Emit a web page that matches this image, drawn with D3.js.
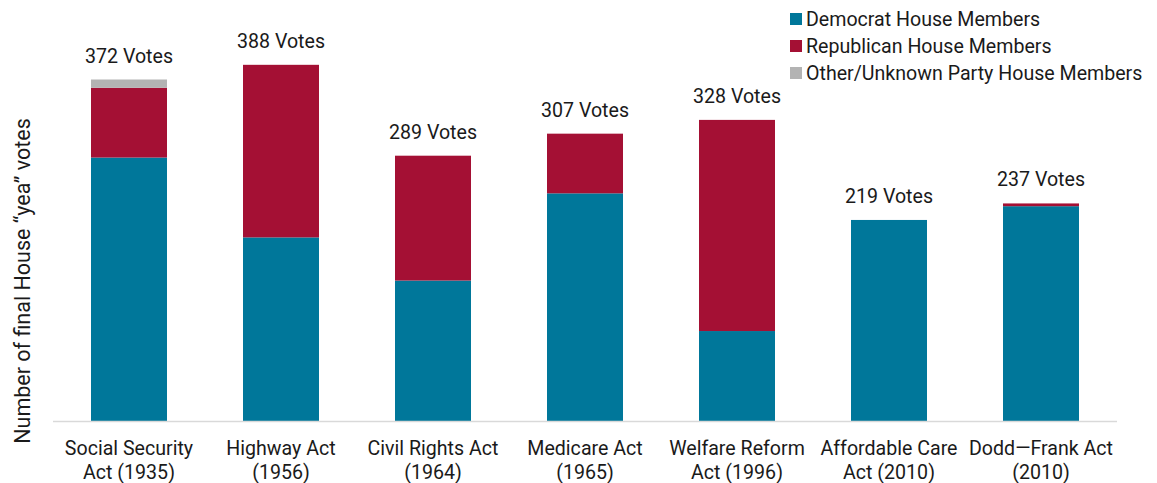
<!DOCTYPE html>
<html>
<head>
<meta charset="utf-8">
<script src="https://cdn.jsdelivr.net/npm/d3@7"></script>
<style>
  body { margin: 0; background: #fff; }
  text { font-family: Roboto, "Liberation Sans", sans-serif; fill: #1a1a1a; }
</style>
</head>
<body>
<svg id="chart" width="1157" height="483"></svg>
<script>
// Chart data
var acts = [
    ["Social Security", "Act (1935)"],
    ["Highway Act", "(1956)"],
    ["Civil Rights Act", "(1964)"],
    ["Medicare Act", "(1965)"],
    ["Welfare Reform", "Act (1996)"],
    ["Affordable Care", "Act (2010)"],
    ["Dodd\u2014Frank Act", "(2010)"]
];
var democrats = [287, 200, 153, 248, 98, 219, 234];
var republicans = [76, 188, 136, 65, 230, 0, 3];
var others = [9, 0, 0, 0, 0, 0, 0];
var totalLabels = ["372 Votes", "388 Votes", "289 Votes", "307 Votes", "328 Votes", "219 Votes", "237 Votes"];
var seriesNames = ["Democrat House Members", "Republican House Members", "Other/Unknown Party House Members"];
var seriesColors = ["#00779a", "#a41034", "#b3b3b3"];

var dimensions = {
    width: 1157,
    height: 483,
    margin: { top: 0, bottom: 62, left: 53, right: 40 }
};

var svg = d3.select("#chart");

// Build rows for stack
var rows = acts.map((a, i) => ({
    key: i,
    dem: democrats[i],
    rep: republicans[i],
    oth: others[i]
}));

var stack = d3.stack().keys(["dem", "rep", "oth"]);
var series = stack(rows);

var xScale = d3.scaleBand()
    .domain(d3.range(acts.length))
    .range([dimensions.margin.left, dimensions.width - dimensions.margin.right])
    .paddingInner(0.5)
    .paddingOuter(0.25);

var baseline = dimensions.height - dimensions.margin.bottom;
var yScale = d3.scaleLinear()
    .domain([0, 100])
    .range([baseline, baseline - 91.8]);

// Bars
svg.selectAll(".layer")
    .data(series)
    .enter()
    .append("g")
    .attr("class", "layer")
    .attr("fill", (d, i) => seriesColors[i])
    .selectAll("rect")
    .data(d => d)
    .enter()
    .append("rect")
    .attr("x", d => xScale(d.data.key))
    .attr("y", d => yScale(d[1]))
    .attr("width", xScale.bandwidth())
    .attr("height", d => yScale(d[0]) - yScale(d[1]));

// Axis line
svg.append("line")
    .attr("x1", dimensions.margin.left)
    .attr("x2", dimensions.width - dimensions.margin.right)
    .attr("y1", baseline + 0.5)
    .attr("y2", baseline + 0.5)
    .attr("stroke", "#d9d9d9")
    .attr("stroke-width", 1.5);

// Total labels
svg.selectAll(".total")
    .data(rows)
    .enter()
    .append("text")
    .attr("class", "total")
    .attr("x", d => xScale(d.key) + xScale.bandwidth() / 2)
    .attr("y", d => yScale(d.dem + d.rep + d.oth) - 17)
    .attr("text-anchor", "middle")
    .attr("font-size", "19.6px")
    .text((d, i) => totalLabels[i]);

// Category labels
var cats = svg.selectAll(".cat")
    .data(acts)
    .enter()
    .append("text")
    .attr("class", "cat")
    .attr("text-anchor", "middle")
    .attr("font-size", "19.6px")
    .attr("transform", (d, i) => `translate(${xScale(i) + xScale.bandwidth() / 2}, ${baseline + 34})`);

cats.append("tspan").attr("x", 0).attr("dy", 0).text(d => d[0]);
cats.append("tspan").attr("x", 0).attr("dy", 24).text(d => d[1]);

// Y axis title
svg.append("text")
    .attr("transform", `translate(30, ${281}) rotate(-90)`)
    .attr("text-anchor", "middle")
    .attr("font-size", "21.5px")
    .text("Number of final House \u201cyea\u201d votes");

// Legend
var legend = svg.selectAll(".legend")
    .data(seriesNames)
    .enter()
    .append("g")
    .attr("class", "legend")
    .attr("transform", (d, i) => `translate(790, ${19 + i * 27})`);

legend.append("rect")
    .attr("x", 0)
    .attr("y", -6)
    .attr("width", 12)
    .attr("height", 12)
    .attr("fill", (d, i) => seriesColors[i]);

legend.append("text")
    .attr("x", 16)
    .attr("y", 0)
    .attr("dy", "0.35em")
    .attr("font-size", "19.6px")
    .text(d => d);
</script>
</body>
</html>
